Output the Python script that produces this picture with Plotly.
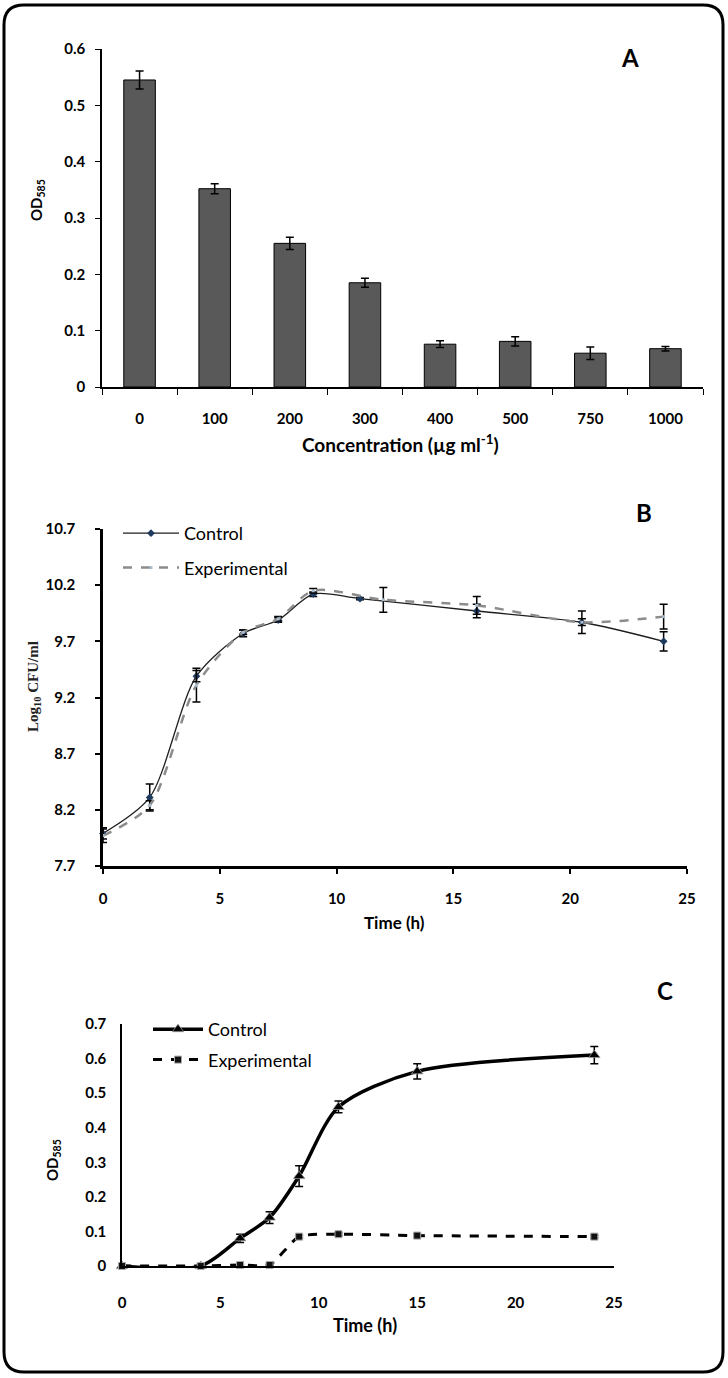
import plotly.graph_objects as go

# ---------------- Data ----------------
# Panel A
conc_labels = ["0", "100", "200", "300", "400", "500", "750", "1000"]
od_a = [0.545, 0.352, 0.255, 0.185, 0.076, 0.081, 0.060, 0.068]
od_a_err = [0.016, 0.009, 0.011, 0.008, 0.006, 0.008, 0.011, 0.004]

# Panel B
b_ctrl_t = [0, 2, 4, 6, 7.5, 9, 11, 16, 20.5, 24]
b_ctrl = [7.99, 8.31, 9.39, 9.77, 9.89, 10.12, 10.08, 9.97, 9.87, 9.70]
b_ctrl_err = [0.05, 0.12, 0.05, 0.03, 0.02, 0.02, 0.01, 0.06, 0.10, 0.085]
b_exp_t = [0, 2, 4, 6, 7.5, 9, 12, 16, 20.5, 24]
b_exp = [7.97, 8.24, 9.31, 9.78, 9.90, 10.15, 10.07, 10.02, 9.87, 9.92]
b_exp_err = [0.06, 0.04, 0.15, 0.02, 0.02, 0.02, 0.11, 0.08, 0.03, 0.11]

# Panel C
c_t = [0, 4, 6, 7.5, 9, 11, 15, 24]
c_ctrl = [0.0, 0.0, 0.08, 0.14, 0.26, 0.46, 0.563, 0.61]
c_ctrl_err = [0.0, 0.004, 0.012, 0.017, 0.03, 0.017, 0.022, 0.025]
c_exp = [0.0, 0.0, 0.003, 0.003, 0.085, 0.092, 0.088, 0.085]
c_exp_err = [0.0, 0.0, 0.002, 0.002, 0.004, 0.004, 0.004, 0.004]

W, H = 728, 1378
def px(x):
    return x / W
def py(y):
    return 1 - y / H

TICKFONT = dict(family="Lato", size=15, color="black", weight="bold")

fig = go.Figure()

# Panel A bars
fig.add_trace(go.Bar(
    x=conc_labels, y=od_a, width=0.42,
    marker=dict(color="#595959", line=dict(color="black", width=1)),
    error_y=dict(type="data", array=od_a_err, color="black", thickness=1.5, width=4),
    showlegend=False, xaxis="x", yaxis="y",
))

# Panel B
fig.add_trace(go.Scatter(
    x=b_ctrl_t, y=b_ctrl, name="Control", mode="lines+markers",
    line=dict(color="#1e1e1e", width=1.3, shape="spline", smoothing=0.8),
    marker=dict(symbol="diamond", size=6, color="#1f3a5f"),
    error_y=dict(type="data", array=b_ctrl_err, color="black", thickness=1.5, width=4),
    xaxis="x2", yaxis="y2", legend="legend", legendgroup="bc", cliponaxis=False,
))
fig.add_trace(go.Scatter(
    x=b_exp_t, y=b_exp, name="Experimental", mode="lines+markers",
    line=dict(color="#8c8c8c", width=2.5, dash="dash", shape="spline", smoothing=0.8),
    marker=dict(symbol="square", size=3, color="#a9bccc"),
    error_y=dict(type="data", array=b_exp_err, color="black", thickness=1.5, width=4),
    xaxis="x2", yaxis="y2", legend="legend", legendgroup="be", cliponaxis=False,
))

# Panel C
fig.add_trace(go.Scatter(
    x=c_t, y=c_ctrl, name="Control", mode="lines+markers",
    line=dict(color="black", width=3.5, shape="spline", smoothing=0.8),
    marker=dict(symbol="triangle-up", size=10, color="black", line=dict(color="#999", width=0.8)),
    error_y=dict(type="data", array=c_ctrl_err, color="black", thickness=1.5, width=4),
    xaxis="x3", yaxis="y3", legend="legend2", legendgroup="cc", cliponaxis=False,
))
fig.add_trace(go.Scatter(
    x=c_t, y=c_exp, name="Experimental", mode="lines+markers",
    line=dict(color="black", width=3, dash="dash", shape="spline", smoothing=0.6),
    marker=dict(symbol="square", size=7, color="#111", line=dict(color="#aaa", width=1)),
    error_y=dict(type="data", array=c_exp_err, color="black", thickness=1.5, width=4),
    xaxis="x3", yaxis="y3", legend="legend2", legendgroup="ce", cliponaxis=False,
))

axis_common = dict(showgrid=False, zeroline=False, showline=True, linecolor="black",
                   automargin=False, tickfont=TICKFONT)

fig.update_layout(
    width=W, height=H, template="none",
    paper_bgcolor="white", plot_bgcolor="white",
    margin=dict(l=0, r=0, t=0, b=0, pad=0),
    xaxis=dict(domain=[px(102), px(703)], anchor="y", type="category",
               ticks="outside", tickson="boundaries", ticklen=6, tickcolor="black",
               linewidth=1.5, ticklabelstandoff=17, **axis_common),
    yaxis=dict(domain=[py(387), py(49)], anchor="x", range=[0, 0.6], dtick=0.1,
               ticks="outside", ticklen=5, tickcolor="black", linewidth=1.5,
               ticklabelstandoff=7, **axis_common),
    xaxis2=dict(domain=[px(103), px(687)], anchor="y2", range=[0, 25], dtick=5,
                ticks="outside", ticklen=5, tickcolor="black", tickwidth=2,
                linewidth=2.5, ticklabelstandoff=12, **axis_common),
    yaxis2=dict(domain=[py(866), py(529)], anchor="x2", range=[7.7, 10.7],
                tickvals=[7.7, 8.2, 8.7, 9.2, 9.7, 10.2, 10.7],
                ticktext=["7.7", "8.2", "8.7", "9.2", "9.7", "10.2", "10.7"],
                ticks="outside", ticklen=5, tickcolor="black", tickwidth=2,
                linewidth=2.5, ticklabelstandoff=17, **axis_common),
    xaxis3=dict(domain=[px(122), px(614)], anchor="y3", range=[0, 25], dtick=5,
                ticks="", linewidth=2, ticklabelstandoff=22, **axis_common),
    yaxis3=dict(domain=[py(1266), py(1024)], anchor="x3", range=[0, 0.7], dtick=0.1,
                ticks="", linewidth=1.5, ticklabelstandoff=11, **axis_common),
    legend=dict(x=px(118), y=py(515), xanchor="left", yanchor="top",
                bgcolor="rgba(0,0,0,0)", itemwidth=56, traceorder="grouped",
                tracegroupgap=8, font=dict(family="Lato", size=18, color="black")),
    legend2=dict(x=px(148), y=py(1011), xanchor="left", yanchor="top",
                 bgcolor="rgba(0,0,0,0)", itemwidth=50, traceorder="grouped",
                 tracegroupgap=4, font=dict(family="Lato", size=18, color="black")),
)

ann = [
    dict(text="A", x=px(630), y=py(57), font=dict(family="Lato", size=24, weight="bold")),
    dict(text="B", x=px(644), y=py(513), font=dict(family="Lato", size=24, weight="bold")),
    dict(text="C", x=px(665), y=py(990), font=dict(family="Lato", size=24, weight="bold")),
    dict(text="OD<sub>585</sub>", x=px(37), y=py(200), textangle=-90,
         font=dict(family="Lato", size=15, weight="bold")),
    dict(text="Concentration (µg ml<sup>-1</sup>)", x=px(400), y=py(443),
         font=dict(family="Lato", size=19, weight="bold")),
    dict(text="Log<sub>10</sub> CFU/ml", x=px(34), y=py(687), textangle=-90,
         font=dict(family="Liberation Serif", size=15, weight="bold", color="#222")),
    dict(text="Time (h)", x=px(395), y=py(922),
         font=dict(family="Lato", size=17, weight="bold")),
    dict(text="OD<sub>585</sub>", x=px(53), y=py(1160), textangle=-90,
         font=dict(family="Lato", size=15, weight="bold")),
    dict(text="Time (h)", x=px(365), y=py(1325),
         font=dict(family="Lato", size=18, weight="bold")),
]
for a in ann:
    a.update(xref="paper", yref="paper", showarrow=False, xanchor="center", yanchor="middle")
    a["font"].setdefault("color", "black")
fig.update_layout(annotations=ann)

# Rounded outer frame
x0, y0, x1, y1, r = px(4), py(5), px(723), py(1372), 20
rx, ry = r / W, r / H
path = (f"M {x0+rx},{y0} L {x1-rx},{y0} Q {x1},{y0} {x1},{y0-ry} "
        f"L {x1},{y1+ry} Q {x1},{y1} {x1-rx},{y1} L {x0+rx},{y1} "
        f"Q {x0},{y1} {x0},{y1+ry} L {x0},{y0-ry} Q {x0},{y0} {x0+rx},{y0} Z")
fig.add_shape(type="path", path=path, xref="paper", yref="paper",
              line=dict(color="black", width=3))

fig.write_html("out.html", config={"displayModeBar": False},
               post_script="document.body.style.margin='0';document.body.style.overflow='hidden';")
